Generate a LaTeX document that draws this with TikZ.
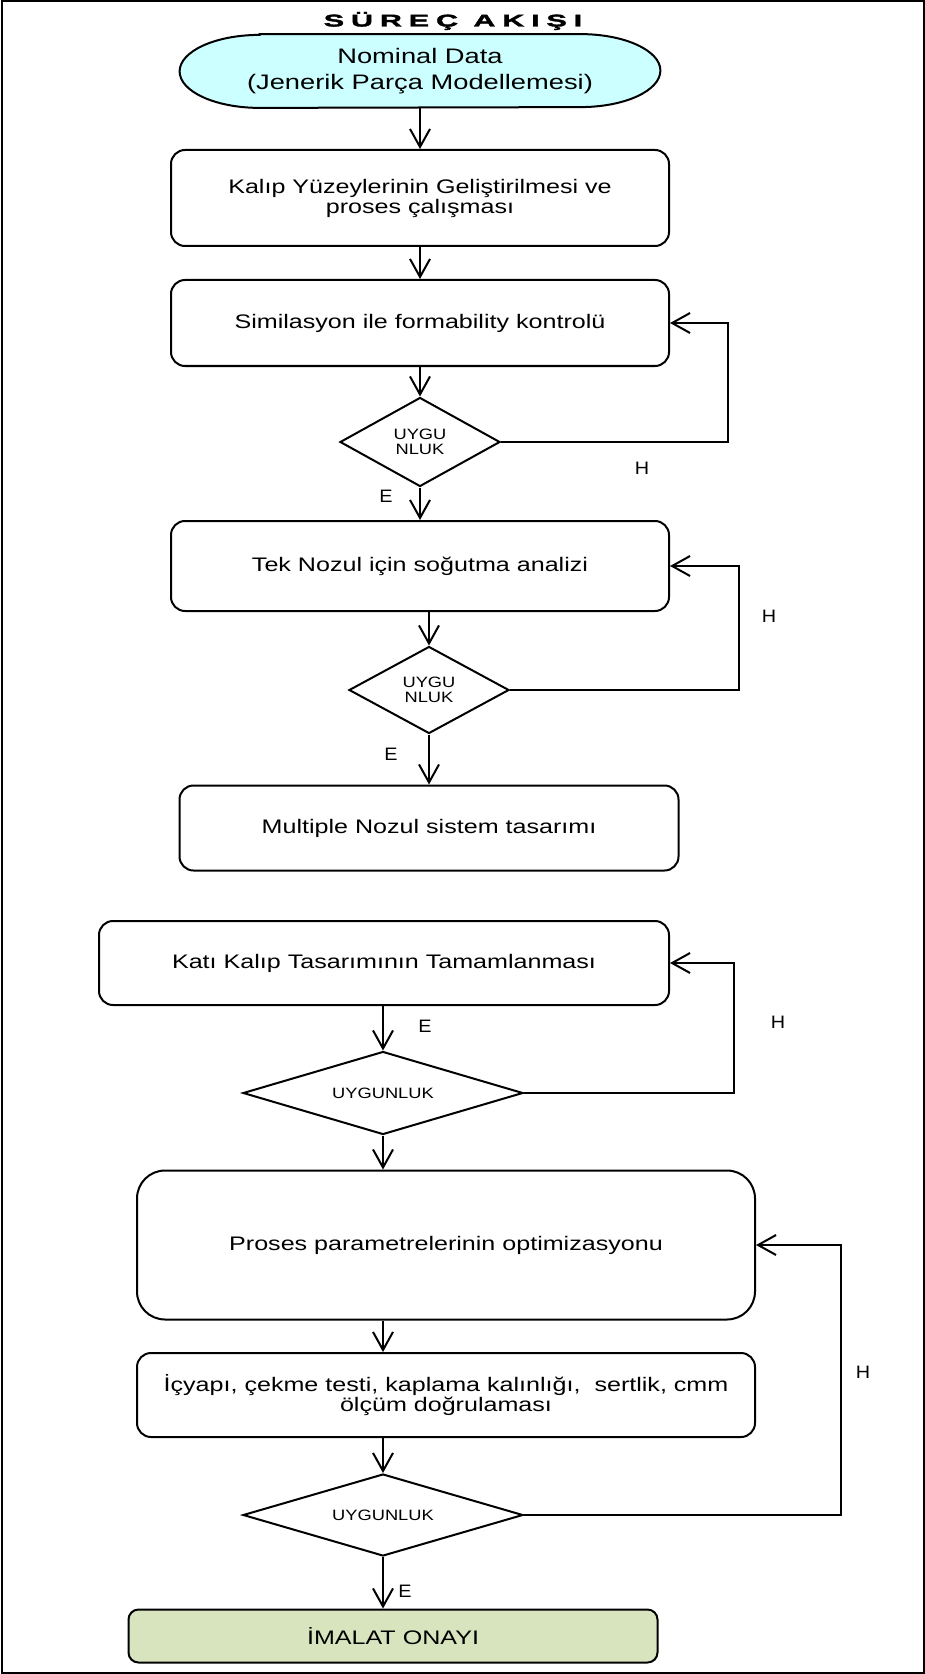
\documentclass[tikz,border=0pt]{standalone}
\usepackage{fontspec}
\setmainfont{Liberation Sans}
\newfontfamily\kutufont{Liberation Sans}[FakeStretch=1.28]
\newfontfamily\nominalfont{Liberation Sans}[FakeStretch=1.3]
\newfontfamily\kararfont{Liberation Sans}[FakeStretch=1.22]
\newfontfamily\etiketfont{Liberation Sans}[FakeStretch=1.1]
\newfontfamily\baslikfont{Liberation Sans}[FakeStretch=1.8, FakeBold=2, LetterSpace=40]
\usetikzlibrary{shapes.geometric, arrows.meta, backgrounds}
\definecolor{nominalmavi}{HTML}{CCFFFF}
\definecolor{onayyesil}{HTML}{D7E4BD}

\begin{document}
\begin{tikzpicture}[
    x=0.5pt, y=-0.5pt,
    baslik/.style={inner sep=0pt, font=\baslikfont\bfseries\fontsize{8.5}{10}\selectfont},
    nominal/.style={rectangle, inner sep=0pt, minimum width=240pt,
        minimum height=36.5pt, align=center,
        font=\nominalfont\fontsize{10.5}{12.8}\selectfont},
    kutu/.style={rectangle, draw=black, line width=1pt, rounded corners=7pt,
        inner sep=0pt, align=center, font=\kutufont\fontsize{9.8}{10}\selectfont},
    karar/.style={diamond, draw=black, line width=1pt, inner sep=0pt,
        align=center, font=\kararfont\fontsize{7.5}{7.4}\selectfont},
    etiket/.style={inner sep=0pt, font=\etiketfont\fontsize{9}{10}\selectfont},
    akis/.style={line width=1pt, -{Straight Barb[length=9pt, width=10pt]}}
]
    \useasboundingbox (0,0) rectangle (925,1674);
    \draw[line width=1pt] (1.5,1.5) rectangle (923.5,1672.5);

    \node[baslik] (baslik) at (453,21) {SÜREÇ AKIŞI};
    \node[nominal] (nominal) at (420,71) {Nominal Data\\(Jenerik Parça Modellemesi)};
    \node[kutu, minimum width=249pt, minimum height=48pt] (yuzey) at (420,198)
        {Kalıp Yüzeylerinin Geliştirilmesi ve\\proses çalışması};
    \node[kutu, minimum width=249pt, minimum height=43pt] (formability) at (420,323)
        {Similasyon ile formability kontrolü};
    \node[karar, minimum width=80pt, minimum height=44.5pt, aspect=1.8] (uygun1) at (420,442) {UYGU\\NLUK};
    \node[kutu, minimum width=249pt, minimum height=45pt] (sogutma) at (420,566)
        {Tek Nozul için soğutma analizi};
    \node[karar, minimum width=80pt, minimum height=43.5pt, aspect=1.8] (uygun2) at (429,690) {UYGU\\NLUK};
    \node[kutu, minimum width=249.5pt, minimum height=42.5pt] (multiple) at (429,828)
        {Multiple Nozul sistem tasarımı};
    \node[kutu, minimum width=285pt, minimum height=42pt] (katikalip) at (384,963)
        {Katı Kalıp Tasarımının Tamamlanması};
    \node[karar, minimum width=140pt, minimum height=41.5pt, aspect=3.4] (uygun3) at (383,1093) {UYGUNLUK};
    \node[kutu, rounded corners=14pt, minimum width=309pt, minimum height=74.5pt] (optimizasyon) at (446,1245)
        {Proses parametrelerinin optimizasyonu};
    \node[kutu, minimum width=309pt, minimum height=42pt] (dogrulama) at (446,1395)
        {İçyapı, çekme testi, kaplama kalınlığı,\ \ sertlik, cmm\\ölçüm doğrulaması};
    \node[karar, minimum width=140pt, minimum height=41pt, aspect=3.4] (uygun4) at (383,1515) {UYGUNLUK};
    \node[kutu, rounded corners=5pt, fill=onayyesil, minimum width=264.5pt, minimum height=26.5pt] (onay) at (393,1636)
        {İMALAT ONAYI};

    \node[etiket] (h1) at (642,468) {H};
    \node[etiket] (e1) at (386,496) {E};
    \node[etiket] (h2) at (769,616) {H};
    \node[etiket] (e2) at (391,754) {E};
    \node[etiket] (e3) at (425,1026) {E};
    \node[etiket] (h3) at (778,1022) {H};
    \node[etiket] (h4) at (863,1372) {H};
    \node[etiket] (e4) at (405,1591) {E};

    % baslangic sekli
    \begin{scope}[on background layer]
        \draw[line width=1pt, fill=nominalmavi] ([xshift=40pt]nominal.north west)
            -- ([xshift=-40pt]nominal.north east)
            arc[start angle=90, end angle=-90, x radius=40pt, y radius=18.25pt]
            -- ([xshift=40pt]nominal.south west)
            arc[start angle=270, end angle=90, x radius=40pt, y radius=18.25pt] -- cycle;
    \end{scope}

    \draw[akis] (nominal) -- (yuzey);
    \draw[akis] (yuzey) -- (formability);
    \draw[akis] (formability) -- (uygun1);
    \draw[akis] (uygun1) -- (sogutma);
    \draw[akis] (sogutma.south -| uygun2.north) -- (uygun2.north);
    \draw[akis] (uygun2) -- (multiple);
    \draw[akis] (katikalip.south -| uygun3.north) -- (uygun3.north);
    \draw[akis] (uygun3.south) -- (uygun3.south |- optimizasyon.north);
    \draw[akis] (optimizasyon.south -| uygun4.north) -- (dogrulama.north -| uygun4.north);
    \draw[akis] (dogrulama.south -| uygun4.north) -- (uygun4.north);
    \draw[akis] (uygun4.south) -- (uygun4.south |- onay.north);

    % geri donusler
    \draw[akis] (uygun1.east) -- ++(227,0) |- (formability.east);
    \draw[akis] (uygun2.east) -- ++(229,0) |- (sogutma.east);
    \draw[akis] (uygun3.east) -- ++(210,0) |- (katikalip.east);
    \draw[akis] (uygun4.east) -- ++(317,0) |- (optimizasyon.east);
\end{tikzpicture}
\end{document}
